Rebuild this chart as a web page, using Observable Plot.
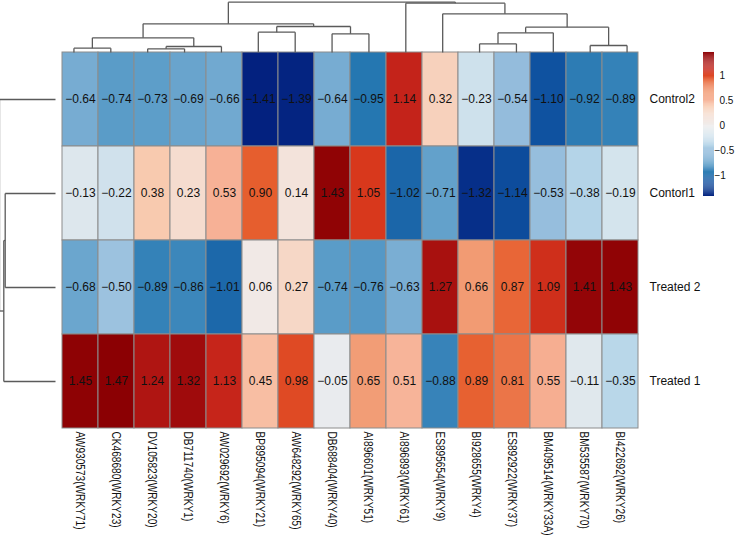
<!DOCTYPE html>
<html>
<head>
<meta charset="utf-8">
<script src="https://cdn.jsdelivr.net/npm/d3@7"></script>
<script src="https://cdn.jsdelivr.net/npm/@observablehq/plot@0.6"></script>
<style>
  html, body { margin: 0; padding: 0; background: #fff; }
  #wrap { position: relative; width: 740px; height: 539px; background: #fff; overflow: hidden; }
  #wrap > svg { position: absolute; left: 0; top: 0; }
</style>
</head>
<body>
<div id="wrap"></div>
<script>
// ---------- data ----------
const genes = ["AW930573(WRKY71)","CK468680(WRKY23)","DV105823(WRKY20)","DB711740(WRKY1)","AW029692(WRKY6)",
  "BP895094(WRKY21)","AW648292(WRKY65)","DB688404(WRKY40)","AI896601(WRKY51)","AI896893(WRKY61)",
  "ES895654(WRKY9)","BI928655(WRKY4)","ES892922(WRKY37)","BM409514(WRKY33A)","BM535587(WRKY70)","BI422692(WRKY26)"];
const samples = ["Control2","Contorl1","Treated 2","Treated 1"];
const control2 = [-0.64,-0.74,-0.73,-0.69,-0.66,-1.41,-1.39,-0.64,-0.95,1.14,0.32,-0.23,-0.54,-1.10,-0.92,-0.89];
const contorl1 = [-0.13,-0.22,0.38,0.23,0.53,0.90,0.14,1.43,1.05,-1.02,-0.71,-1.32,-1.14,-0.53,-0.38,-0.19];
const treated2 = [-0.68,-0.50,-0.89,-0.86,-1.01,0.06,0.27,-0.74,-0.76,-0.63,1.27,0.66,0.87,1.09,1.41,1.43];
const treated1 = [1.45,1.47,1.24,1.32,1.13,0.45,0.98,-0.05,0.65,0.51,-0.88,0.89,0.81,0.55,-0.11,-0.35];

// column dendrogram merges: [node, childA, childB, height]  (numbers = column index)
const colMerges = [
  ["A", 0, 1, 0.43], ["B", 2, 3, 0.37], ["C", "B", 4, 0.60], ["D", "A", "C", 1.47],
  ["E", 5, 6, 2.03], ["F", 7, 8, 1.87], ["G", "E", "F", 2.60], ["H", "D", "G", 2.87],
  ["I", 11, 12, 0.87], ["J", "I", 13, 1.97], ["K", 14, 15, 0.70], ["L", "J", "K", 2.53],
  ["M", 10, "L", 3.87], ["N", 9, "M", 4.93], ["R", "H", "N", 5.03]
];
// row dendrogram merges (numbers = row index)
const rowMerges = [["P", 1, 2, 5.03], ["Q", "P", 3, 5.17], ["R", 0, "Q", 5.6]];

const legendTicks = [-1, -0.5, 0, 0.5, 1];

// colour palette (value stops -> colours)
const colorStops = [-1.41,-1.10,-0.95,-0.74,-0.54,-0.38,-0.20,0,0.23,0.38,0.53,0.66,0.90,1.05,1.14,1.30,1.47];
const colorHex = ["#03217f","#0f52a0","#2577b1","#5a9cc8","#94bcdc","#b4d4e8","#d3e3ed","#f0eeee","#f5dccf",
  "#f8caaf","#f7b196","#f29b73","#e65e2e","#d8381c","#c4231a","#a20d0d","#8b0003"];

// ---------- build ----------
const rowsVals = [control2, contorl1, treated2, treated1];
const cells = [];
samples.forEach((s, j) => genes.forEach((g, i) => cells.push({gene: g, sample: s, value: rowsVals[j][i]})));
const ext = d3.extent(cells, d => d.value);
const colorOpt = {type: "linear", domain: colorStops, range: colorHex, interpolate: "rgb"};
const fmt = d3.format(".2f");
const W = 740, H = 539;
const mL = 55, mR = 95, mT = 52, mB = 111;
const sansFont = "'Liberation Sans', Arial, Helvetica, sans-serif";

const wrap = document.getElementById("wrap");

const main = Plot.plot({
  width: W, height: H,
  marginLeft: mL, marginRight: mR, marginTop: mT, marginBottom: mB,
  style: {fontFamily: sansFont, color: "#000", background: "white"},
  x: {domain: genes, padding: 0},
  y: {domain: samples, padding: 0},
  color: colorOpt,
  marks: [
    Plot.cell(cells, {x: "gene", y: "sample", fill: "value", stroke: "#8c8c8c", strokeWidth: 1}),
    Plot.text(cells, {x: "gene", y: "sample", text: d => fmt(d.value), fill: "#111", fontSize: 12}),
    Plot.axisX({anchor: "bottom", tickSize: 0, tickPadding: 3, tickRotate: 90, label: null,
      fontSize: 13.5, fill: "#111"}),
    Plot.axisY({anchor: "right", tickSize: 0, tickPadding: 4, label: null, fontSize: 12, fill: "#111"})
  ]
});
wrap.appendChild(main);
// condense the rotated column labels along their length (reference uses a narrow face)
d3.select(main).selectAll("g[aria-label='x-axis tick label'] text").each(function() {
  const t = this.getAttribute("transform") || "";
  this.setAttribute("transform", t + " scale(0.75,1)");
});

function treeSegments(merges, leafPos) {
  const pos = {};
  const get = k => (typeof k === "number") ? {p: leafPos(k), h: 0} : pos[k];
  const segs = [];
  for (const [id, a, b, h] of merges) {
    const A = get(a), B = get(b);
    segs.push({p1: A.p, h1: A.h, p2: A.p, h2: h});
    segs.push({p1: B.p, h1: B.h, p2: B.p, h2: h});
    segs.push({p1: A.p, h1: h, p2: B.p, h2: h});
    pos[id] = {p: (A.p + B.p) / 2, h};
  }
  return segs;
}

const colSegs = treeSegments(colMerges, i => i + 0.5);
const colTree = Plot.plot({
  width: W, height: H,
  marginLeft: mL, marginRight: mR, marginTop: 0, marginBottom: 0,
  style: {background: "transparent"},
  x: {type: "linear", domain: [0, genes.length], range: [mL, W - mR], axis: null},
  y: {type: "linear", domain: [0, 5.03], range: [mT, 1.7], axis: null},
  marks: [
    Plot.link(colSegs, {x1: "p1", y1: "h1", x2: "p2", y2: "h2", stroke: "#5a5a5a", strokeWidth: 1.3})
  ]
});
wrap.appendChild(colTree);

const rowSegs = treeSegments(rowMerges, j => j + 0.5);
const rowTree = Plot.plot({
  width: W, height: H,
  marginLeft: 0, marginRight: 0, marginTop: mT, marginBottom: mB,
  style: {background: "transparent"},
  x: {type: "linear", domain: [0, 5.5], range: [mL, 0], axis: null},
  y: {type: "linear", domain: [0, samples.length], range: [mT, H - mB], axis: null},
  marks: [
    Plot.link(rowSegs, {x1: "h1", y1: "p1", x2: "h2", y2: "p2", stroke: "#5a5a5a", strokeWidth: 1.3})
  ]
});
wrap.appendChild(rowTree);

// legend colour bar
const nSteps = 150;
const step = (ext[1] - ext[0]) / nSteps;
const legSteps = d3.range(nSteps).map(k => ext[0] + k * step);
const legend = Plot.plot({
  width: W, height: H,
  marginLeft: 703, marginRight: W - 714, marginTop: 0, marginBottom: 0,
  style: {background: "transparent", fontFamily: sansFont, color: "#000"},
  y: {type: "linear", domain: ext, range: [196, 52], axis: null},
  color: colorOpt,
  marks: [
    Plot.rect(legSteps, {y1: d => d, y2: d => d + step * 1.02, fill: d => d + step / 2}),
    Plot.text(legendTicks.filter(t => t >= 0), {y: d => d, text: d => d3.format("")(d), frameAnchor: "right",
      textAnchor: "start", dx: 5, fontSize: 10, fill: "#111"}),
    Plot.text(legendTicks.filter(t => t < 0), {y: d => d, text: d => d3.format("")(d), frameAnchor: "right",
      textAnchor: "start", dx: 0, fontSize: 10, fill: "#111"})
  ]
});
wrap.appendChild(legend);
</script>
</body>
</html>
